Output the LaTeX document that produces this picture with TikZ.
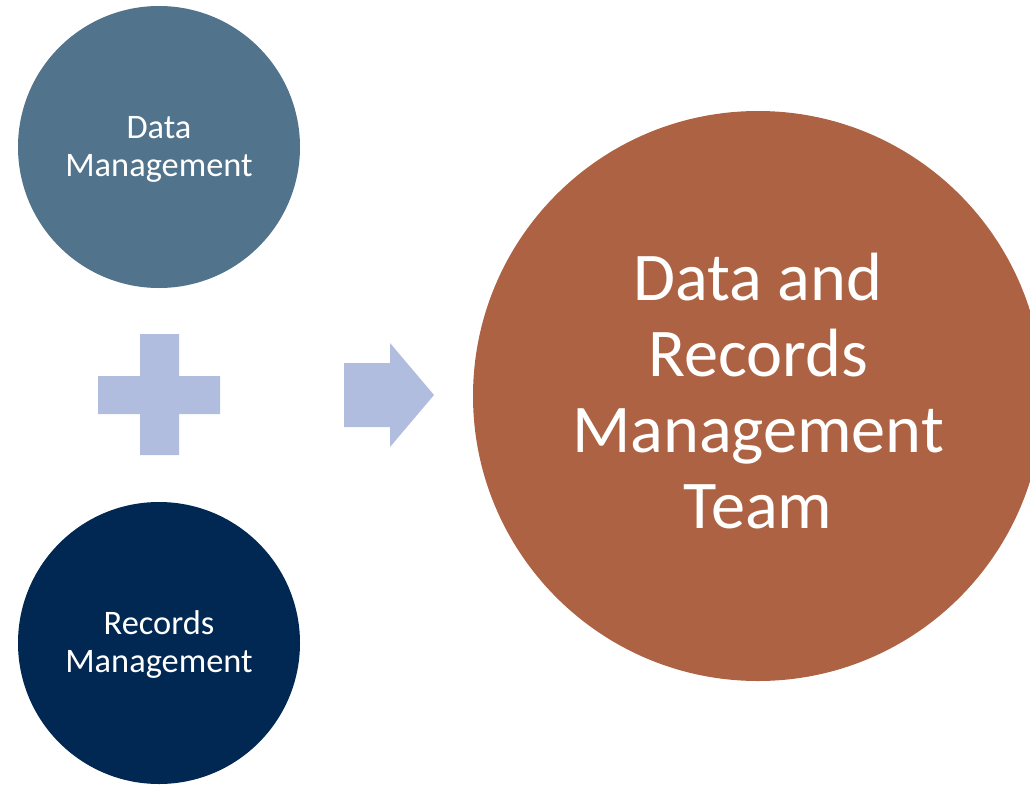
\documentclass[tikz,border=0pt]{standalone}
\usepackage{fontspec}
\setmainfont{Carlito}
\begin{document}
\begin{tikzpicture}[x=1pt,y=-1pt,
  blob/.style={circle,inner sep=0pt,draw=none},
  smalltxt/.style={text=white,align=center,anchor=base,inner sep=0pt,
    font=\fontsize{34.4}{38}\selectfont},
  bigtxt/.style={text=white,align=center,anchor=base,inner sep=0pt,
    font=\fontsize{68.3}{76}\selectfont},
  symb/.style={fill=plusblue,draw=none}]
\definecolor{dmblue}{HTML}{51738C}
\definecolor{rmnavy}{HTML}{002853}
\definecolor{teamrust}{HTML}{AD6343}
\definecolor{plusblue}{HTML}{B0BDDF}
\useasboundingbox (0,0) rectangle (1030,784);
\clip (0,0) rectangle (1030,784);
% three circles
\node[blob,fill=dmblue,minimum size=282] (dm) at (159,147) {};
\node[blob,fill=rmnavy,minimum size=282] (rm) at (159,643) {};
\node[blob,fill=teamrust,minimum size=570] (team) at (758,396) {};
% labels (anchored at the baseline of their last line)
\node[smalltxt] (dmlabel) at (159,176) {Data\\Management};
\node[smalltxt] (rmlabel) at (159,672) {Records\\Management};
\node[bigtxt] (teamlabel) at (758,528) {Data and\\Records\\Management\\Team};
% plus sign
\fill[symb] (140,334) -- (179,334) -- (179,376) -- (220,376) -- (220,414)
  -- (179,414) -- (179,455) -- (140,455) -- (140,414) -- (98,414)
  -- (98,376) -- (140,376) -- cycle;
% block arrow
\fill[symb] (344,363) -- (390,363) -- (390,343) -- (434,395) -- (390,447)
  -- (390,427) -- (344,427) -- cycle;
\end{tikzpicture}
\end{document}
